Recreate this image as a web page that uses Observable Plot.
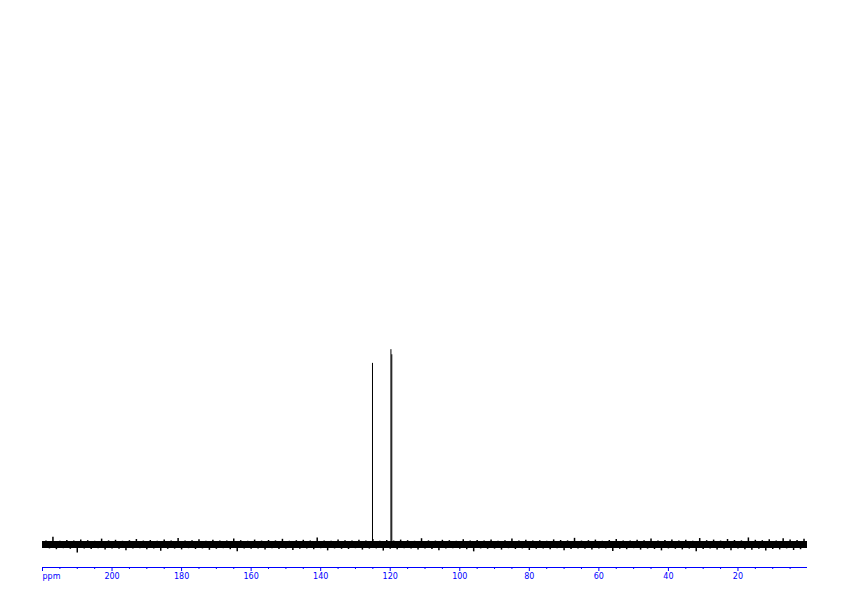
<!DOCTYPE html>
<html>
<head>
<meta charset="utf-8">
<script src="https://cdn.jsdelivr.net/npm/d3@7"></script>
<script src="https://cdn.jsdelivr.net/npm/@observablehq/plot@0.6"></script>
<style>
  html, body { margin: 0; padding: 0; background: #fff; }
  #chart svg { display: block; }
</style>
</head>
<body>
<div id="chart"></div>
<script>
// Peaks (ppm, intensity relative to baseline)
const peakPpm = [125.1, 119.8, 119.55];
const peakHeight = [92.8, 99.8, 97.2];

// Noise floor band (ppm extent, half-width of solid band)
const bandPpm = [220, 0];
const bandHalf = 1.8;

// Noise excursions read approximately from the baseline (upper at odd ppm, lower at even ppm)
const upAmp = [2.1,4.0,1.9,2.3,2.0,2.6,2.2,1.9,3.0,2.1, 2.4,1.9,2.2,2.8,2.0,2.3,1.9,2.5,2.1,3.3,
  2.0,2.2,2.7,1.9,2.4,2.1,2.0,3.1,2.2,1.9, 2.5,2.0,2.3,2.1,2.9,1.9,2.2,2.4,2.0,3.6,
  2.1,1.9,2.6,2.2,2.0,2.4,2.1,2.8,1.9,2.3, 2.0,2.5,2.2,1.9,3.2,2.1,2.0,2.4,2.2,1.9,
  2.7,2.1,2.3,2.0,2.5,1.9,2.2,3.0,2.1,2.4, 2.0,2.2,1.9,2.6,2.3,2.1,3.4,2.0,2.2,2.5,
  1.9,2.3,2.8,2.1,2.0,2.4,2.2,3.1,2.0,2.3, 2.6,2.1,2.4,1.9,3.3,2.2,2.5,2.0,2.8,2.3,
  2.1,3.6,2.4,2.2,2.7,2.0,3.2,2.5,2.3,2.9];
const downAmp = [2.0,2.4,1.9,2.2,4.1,2.1,2.3,1.9,2.6,2.0, 2.2,2.9,2.1,1.9,2.4,2.0,3.2,2.2,2.1,2.5,
  1.9,2.3,2.0,2.7,2.2,1.9,2.4,3.4,2.0,2.2, 2.1,2.5,1.9,2.3,2.0,2.8,2.2,2.1,2.4,1.9,
  3.0,2.0,2.2,2.3,1.9,2.6,2.1,2.0,3.1,2.2, 2.4,1.9,2.1,2.5,2.0,2.3,2.9,2.1,1.9,2.2,
  2.4,3.5,2.0,2.2,2.1,2.6,1.9,2.3,2.0,2.8, 2.2,2.1,2.4,1.9,3.0,2.3,2.0,2.2,2.5,2.1,
  2.0,3.3,2.2,2.4,1.9,2.6,2.1,2.3,3.0,2.0, 2.2,2.5,2.1,3.4,2.3,2.0,2.6,2.2,2.9,2.1,
  2.4,2.7,2.2,3.1,2.3,2.5,2.0,2.8,2.4];

// Axis ticks
const majorTicks = [220, 200, 180, 160, 140, 120, 100, 80, 60, 40, 20];
const minorTicks = [215,210,205,195,190,185,175,170,165,155,150,145,135,130,125,115,110,105,
  95,90,85,75,70,65,55,50,45,35,30,25,15,10,5];
const unitLabel = "ppm";

const ups = upAmp.map((a, i) => ({ppm: 219 - 2 * i, a}));
const downs = downAmp.map((a, i) => ({ppm: 218 - 2 * i, a: -a}));
const peaks = peakPpm.map((p, i) => ({ppm: p, h: peakHeight[i]}));
const band = bandPpm.map(p => ({ppm: p}));

const blue = "#0000ff";
const yMin = -11.5;

const chart = Plot.plot({
  width: 842,
  height: 596,
  marginLeft: 42,
  marginRight: 35,
  marginTop: 20,
  marginBottom: 29,
  style: {background: "#fff", fontFamily: "DejaVu Sans, sans-serif"},
  x: {domain: [220, 0], axis: null, label: null},
  y: {domain: [yMin, 268], axis: null, label: null},
  marks: [
    Plot.areaY(band, {x: "ppm", y1: -bandHalf, y2: bandHalf, fill: "#000"}),
    Plot.ruleX(ups, {x: "ppm", y1: 0, y2: "a", stroke: "#000", strokeWidth: 1.5}),
    Plot.ruleX(downs, {x: "ppm", y1: 0, y2: "a", stroke: "#000", strokeWidth: 1.5}),
    Plot.ruleX(peaks, {x: "ppm", y1: 0, y2: "h", stroke: "#000", strokeWidth: 1}),
    Plot.ruleY([yMin], {stroke: blue, strokeWidth: 1}),
    Plot.axisX({ticks: majorTicks, tickSize: 4, tickPadding: 2, color: blue, fontSize: 8, label: null,
      tickFormat: d => d === 220 ? "" : String(d)}),
    Plot.axisX({ticks: minorTicks, tickSize: 2, color: blue, text: null, label: null, tickFormat: null}),
    Plot.text([unitLabel], {x: 220, y: yMin, text: d => d, textAnchor: "start", lineAnchor: "top",
      dy: 6, fill: blue, fontSize: 8})
  ]
});
document.getElementById("chart").appendChild(chart);
</script>
</body>
</html>
